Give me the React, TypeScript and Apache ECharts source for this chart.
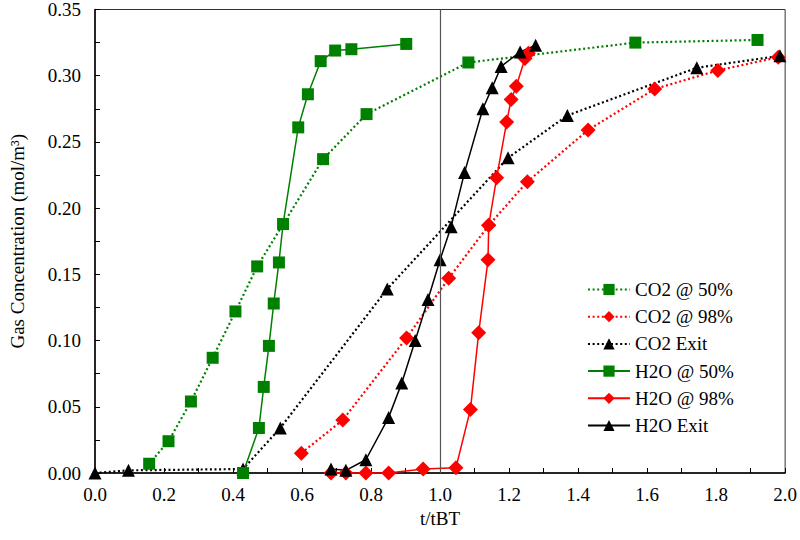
import React, { useEffect, useRef } from "react";
import * as echarts from "echarts";

// ---- Data ----
const co2At50X = [0.157, 0.213, 0.278, 0.341, 0.407, 0.470, 0.661, 0.787, 1.082, 1.566, 1.92];
const co2At50Y = [0.007, 0.024, 0.054, 0.087, 0.122, 0.156, 0.237, 0.271, 0.310, 0.325, 0.327];

const co2At98X = [0.598, 0.718, 0.903, 1.025, 1.141, 1.253, 1.429, 1.622, 1.805, 1.98];
const co2At98Y = [0.015, 0.040, 0.102, 0.147, 0.187, 0.220, 0.259, 0.290, 0.304, 0.314];

const co2ExitX = [0, 0.097, 0.429, 0.537, 0.847, 1.197, 1.369, 1.744, 1.985];
const co2ExitY = [0, 0.002, 0.003, 0.034, 0.139, 0.238, 0.270, 0.306, 0.315];

const h2oAt50X = [0.429, 0.475, 0.489, 0.504, 0.518, 0.533, 0.545, 0.589, 0.617, 0.654, 0.696, 0.743, 0.902];
const h2oAt50Y = [0, 0.034, 0.065, 0.096, 0.128, 0.159, 0.188, 0.261, 0.286, 0.311, 0.319, 0.320, 0.324];

const h2oAt98X = [0.684, 0.727, 0.785, 0.851, 0.951, 1.046, 1.088, 1.112, 1.139, 1.141, 1.164, 1.193, 1.206, 1.221, 1.246, 1.256];
const h2oAt98Y = [0, 0, 0, 0, 0.003, 0.004, 0.048, 0.106, 0.161, 0.187, 0.223, 0.265, 0.282, 0.292, 0.313, 0.317];

const h2oExitX = [0.684, 0.727, 0.785, 0.851, 0.889, 0.928, 0.965, 1.0, 1.032, 1.071, 1.124, 1.151, 1.177, 1.232, 1.277];
const h2oExitY = [0.003, 0.002, 0.010, 0.042, 0.068, 0.100, 0.131, 0.161, 0.186, 0.227, 0.275, 0.291, 0.307, 0.318, 0.323];

const seriesNames = ["CO2 @ 50%", "CO2 @ 98%", "CO2 Exit", "H2O @ 50%", "H2O @ 98%", "H2O Exit"];
const referenceX = 1.0;

const zip = (xs: number[], ys: number[]) => xs.map((x, i) => [x, ys[i]]);

const FONT = "'Liberation Serif', 'Times New Roman', serif";
const GREEN = "#008000";
const RED = "#ff0000";
const BLACK = "#000000";

export default function App() {
  const ref = useRef<HTMLDivElement>(null);

  useEffect(() => {
    if (!ref.current) return;
    const chart = echarts.init(ref.current, undefined, { renderer: "svg" });

    const mk = (
      name: string,
      data: number[][],
      color: string,
      symbol: string,
      size: number,
      dotted: boolean,
      extra: any = {}
    ) => ({
      name,
      type: "line",
      data,
      symbol,
      symbolSize: size,
      clip: false,
      showSymbol: true,
      itemStyle: { color, opacity: 1 },
      lineStyle: dotted
        ? { color, width: 2.2, type: [2, 2.6] }
        : { color, width: 1.5, type: "solid" },
      emphasis: { disabled: true },
      ...extra,
    });

    const option: any = {
      animation: false,
      backgroundColor: "#ffffff",
      textStyle: { fontFamily: FONT },
      grid: {
        left: 95,
        right: 13,
        top: 5,
        bottom: 67,
        show: true,
        borderColor: "#333333",
        borderWidth: 1,
        containLabel: false,
      },
      legend: {
        orient: "vertical",
        left: 582,
        top: 275,
        itemWidth: 42,
        itemHeight: 14,
        itemGap: 8.2,
        data: seriesNames,
        textStyle: { fontFamily: FONT, fontSize: 19, color: "#000" },
        selectedMode: false,
      },
      xAxis: {
        type: "value",
        min: 0,
        max: 2,
        interval: 0.2,
        name: "t/tBT",
        nameLocation: "middle",
        nameGap: 35,
        nameTextStyle: { fontFamily: FONT, fontSize: 19, color: "#000" },
        axisLine: { show: true, lineStyle: { color: "#000", width: 1.5 } },
        axisTick: { show: true, inside: true, length: 5, lineStyle: { color: "#000", width: 1 } },
        minorTick: { show: true, splitNumber: 2, length: 5, lineStyle: { color: "#000", width: 1 } },
        splitLine: { show: false },
        minorSplitLine: { show: false },
        axisLabel: {
          fontFamily: FONT,
          fontSize: 19,
          color: "#000",
          margin: 12,
          formatter: (v: number) => v.toFixed(1),
        },
      },
      yAxis: {
        type: "value",
        min: 0,
        max: 0.35,
        interval: 0.05,
        name: "Gas Concentration (mol/m³)",
        nameLocation: "middle",
        nameGap: 68,
        nameTextStyle: { fontFamily: FONT, fontSize: 19, color: "#000" },
        axisLine: { show: true, lineStyle: { color: "#000", width: 1.5 } },
        axisTick: { show: true, inside: true, length: 5, lineStyle: { color: "#000", width: 1 } },
        minorTick: { show: true, splitNumber: 2, length: 5, lineStyle: { color: "#000", width: 1 } },
        splitLine: { show: false },
        minorSplitLine: { show: false },
        axisLabel: {
          fontFamily: FONT,
          fontSize: 19,
          color: "#000",
          margin: 14,
          formatter: (v: number) => v.toFixed(2),
        },
      },
      series: [
        mk(seriesNames[0], zip(co2At50X, co2At50Y), GREEN, "rect", 12, true, {
          markLine: {
            silent: true,
            symbol: ["none", "none"],
            label: { show: false },
            lineStyle: { color: "#555555", width: 1.2, type: "solid" },
            data: [{ xAxis: referenceX }],
          },
        }),
        mk(seriesNames[1], zip(co2At98X, co2At98Y), RED, "diamond", 15, true),
        mk(seriesNames[2], zip(co2ExitX, co2ExitY), BLACK, "triangle", 13, true),
        mk(seriesNames[3], zip(h2oAt50X, h2oAt50Y), GREEN, "rect", 12, false),
        mk(seriesNames[4], zip(h2oAt98X, h2oAt98Y), RED, "diamond", 15, false),
        mk(seriesNames[5], zip(h2oExitX, h2oExitY), BLACK, "triangle", 13, false),
      ],
    };

    chart.setOption(option);
    return () => chart.dispose();
  }, []);

  return (
    <div
      ref={ref}
      style={{ position: "fixed", left: 0, top: 0, width: 800, height: 540, background: "#fff" }}
    />
  );
}
